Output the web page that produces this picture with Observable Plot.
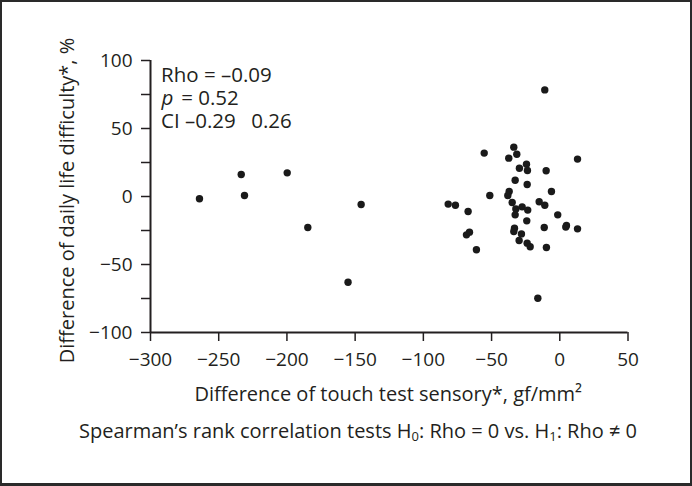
<!DOCTYPE html>
<html>
<head>
<meta charset="utf-8">
<script src="https://cdn.jsdelivr.net/npm/d3@7"></script>
<script src="https://cdn.jsdelivr.net/npm/@observablehq/plot@0.6"></script>
<style>
  html, body { margin: 0; padding: 0; background: #fff; }
  #frame { position: relative; width: 692px; height: 486px; box-sizing: border-box; border-style: solid; border-color: #2a2a2a; border-width: 2px 2px 3px 2px; background: #fff; overflow: hidden; }
  #chart svg { display: block; }
  #caption { position: absolute; left: 77px; top: 418px; font-family: "Open Sans", sans-serif; font-size: 20px; line-height: 22px; color: #231f20; white-space: nowrap; }
  #caption sub { font-size: 13px; line-height: 0; vertical-align: -3px; }
</style>
</head>
<body>
<div id="frame">
  <div id="chart"></div>
  <div id="caption">Spearman’s rank correlation tests H<sub>0</sub>: Rho = 0 vs. H<sub>1</sub>: Rho ≠ 0</div>
</div>
<script>
// Difference of touch test sensory (gf/mm²)
const touch = [-264.1, -233.5, -231.1, -199.8, -184.7, -145.6, -155.2, -81.8, -76.5, -67.2,
  -68.4, -66.2, -61.1, -55.4, -51.3, -33.7, -31.5, -37.4, -24.4, -29.6,
  -23.7, -10.0, 13.0, -11.0, -32.7, -23.9, -6.1, -37.1, -38.1, -34.9,
  -15.1, -11.0, -27.6, -32.2, -23.5, -32.7, -1.5, -24.2, 4.9, 4.4,
  13.0, -11.4, -33.2, -33.7, -28.1, -29.8, -23.9, -21.7, -9.8, -16.1];
// Difference of daily life difficulty (%)
const daily = [-1.7, 16.2, 0.7, 17.4, -22.8, -5.9, -63.0, -5.6, -6.4, -11.0,
  -28.2, -26.2, -39.2, 31.9, 0.7, 36.3, 31.1, 28.2, 23.8, 20.8,
  19.1, 18.9, 27.5, 78.4, 12.0, 8.8, 3.7, 3.7, 0.7, -4.4,
  -3.9, -6.4, -7.6, -9.1, -10.0, -13.5, -13.5, -17.9, -21.3, -22.5,
  -23.8, -22.8, -23.3, -25.7, -27.5, -32.4, -34.3, -37.0, -37.5, -74.8];

const xTicks = [-300, -250, -200, -150, -100, -50, 0, 50];
const yTicks = [-100, -75, -50, -25, 0, 25, 50, 75, 100];
const yLabelled = [-100, -50, 0, 50, 100];
const xLabel = "Difference of touch test sensory*, gf/mm²";
const yLabel = "Difference of daily life difficulty*, %";
const statRho = "Rho = –0.09";
const statP = "p";
const statPValue = "= 0.52";
const statCI = "CI –0.29";
const statCIHigh = "0.26";

const points = touch.map((x, i) => ({x, y: daily[i]}));
const ink = "#231f20";
const fmt = d => (d < 0 ? "−" : "") + Math.abs(d);
const annot = {frameAnchor: "top-left", text: d => d, textAnchor: "start", lineAnchor: "top", fill: ink, fontSize: 20.5};

const chart = Plot.plot({
  width: 688,
  height: 412,
  marginLeft: 148,
  marginRight: 62.5,
  marginTop: 58,
  marginBottom: 82,
  style: {fontFamily: "Open Sans, sans-serif", fontSize: "19px", color: ink, background: "#fff"},
  x: {domain: [-300, 50]},
  y: {domain: [-100, 100]},
  marks: [
    Plot.axisX({ticks: xTicks, tickSize: 9, tickPadding: 10.5, tickFormat: fmt, label: null, stroke: ink, strokeWidth: 1.5, fill: ink, fontSize: 19}),
    Plot.axisY({ticks: yTicks, tickSize: 9, tickPadding: 9, tickFormat: d => yLabelled.includes(d) ? fmt(d) : "", label: null, stroke: ink, strokeWidth: 1.5, fill: ink, fontSize: 19}),
    Plot.ruleX([-300], {y1: -100, y2: 100, stroke: ink, strokeWidth: 2}),
    Plot.ruleY([-100], {x1: -300, x2: 50, stroke: ink, strokeWidth: 2}),
    Plot.dot(points, {x: "x", y: "y", r: 3.7, fill: "#1a1a1a", stroke: "none"}),
    Plot.text([statRho], {...annot, dx: 10.5, dy: 7.1}),
    Plot.text([statP], {...annot, dx: 11, dy: 30.4, fontStyle: "italic"}),
    Plot.text([statPValue], {...annot, dx: 30.7, dy: 30.4}),
    Plot.text([statCI], {...annot, dx: 10.5, dy: 53.4}),
    Plot.text([statCIHigh], {...annot, dx: 100.7, dy: 53.4}),
    Plot.text([xLabel], {frameAnchor: "bottom", text: d => d, textAnchor: "middle", dx: -1, dy: 61.6, lineAnchor: "middle", fill: ink, fontSize: 20}),
    Plot.text([yLabel], {frameAnchor: "left", text: d => d, textAnchor: "middle", dx: -83.4, dy: 4, rotate: -90, lineAnchor: "middle", fill: ink, fontSize: 20})
  ]
});
document.getElementById("chart").append(chart);
</script>
</body>
</html>
